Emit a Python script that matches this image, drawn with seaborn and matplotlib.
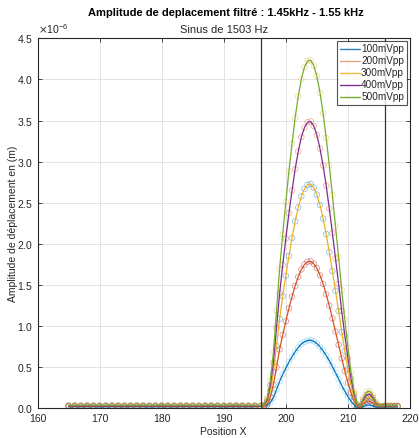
import numpy as np
import pandas as pd
import matplotlib
matplotlib.use("Agg")
import matplotlib.pyplot as plt
import seaborn as sns
from matplotlib.lines import Line2D
from matplotlib.ticker import ScalarFormatter

# ---------------- data (amplitudes in units of 1e-6 m) ----------------
labels = ["100mVpp", "200mVpp", "300mVpp", "400mVpp", "500mVpp"]
line_colors = ["#0072BD", "#D95319", "#EDB120", "#7E2F8E", "#77AC30"]
marker_colors = ["#4DBEEE", "#A2142F", "#0072BD", "#D95319", "#EDB120"]
legend_colors = ["#2F80C0", "#E8A080", "#F2BE40", "#7E2F8E", "#77AC30"]

x_base = list(range(165, 196))                       # 165 .. 195
x_peak = [196 + 0.5 * i for i in range(45)]           # 196 .. 218

base_100 = [0.020, 0.021, 0.020, 0.022, 0.021, 0.020, 0.021, 0.022, 0.021, 0.020, 0.021,
            0.022, 0.021, 0.020, 0.021, 0.022, 0.021, 0.020, 0.021, 0.022, 0.021, 0.020,
            0.021, 0.022, 0.021, 0.020, 0.021, 0.022, 0.021, 0.020, 0.021]
base_200 = [0.026, 0.027, 0.026, 0.028, 0.027, 0.026, 0.027, 0.028, 0.027, 0.026, 0.027,
            0.028, 0.027, 0.026, 0.027, 0.028, 0.027, 0.026, 0.027, 0.028, 0.027, 0.026,
            0.027, 0.028, 0.027, 0.026, 0.027, 0.028, 0.027, 0.026, 0.027]
base_300 = [0.034, 0.035, 0.034, 0.036, 0.035, 0.034, 0.035, 0.036, 0.035, 0.034, 0.035,
            0.036, 0.035, 0.034, 0.035, 0.036, 0.035, 0.034, 0.035, 0.036, 0.035, 0.034,
            0.035, 0.036, 0.035, 0.034, 0.035, 0.036, 0.035, 0.034, 0.035]
base_400 = [0.030, 0.031, 0.030, 0.032, 0.031, 0.030, 0.031, 0.032, 0.031, 0.030, 0.031,
            0.032, 0.031, 0.030, 0.031, 0.032, 0.031, 0.030, 0.031, 0.032, 0.031, 0.030,
            0.031, 0.032, 0.031, 0.030, 0.031, 0.032, 0.031, 0.030, 0.031]
base_500 = [0.040, 0.041, 0.040, 0.042, 0.041, 0.040, 0.041, 0.042, 0.041, 0.040, 0.041,
            0.042, 0.041, 0.040, 0.041, 0.042, 0.041, 0.040, 0.041, 0.042, 0.041, 0.040,
            0.041, 0.042, 0.041, 0.040, 0.041, 0.042, 0.041, 0.040, 0.041]

peak_100 = [0.03, 0.03, 0.04, 0.07, 0.13, 0.23, 0.33, 0.415, 0.49, 0.565, 0.63, 0.69,
            0.74, 0.785, 0.81, 0.827, 0.83, 0.817, 0.79, 0.75, 0.70, 0.645, 0.58, 0.51,
            0.435, 0.36, 0.28, 0.21, 0.145, 0.087, 0.042, 0.012, 0.008, 0.025, 0.039,
            0.042, 0.032, 0.018, 0.012, 0.015, 0.02, 0.02, 0.02, 0.02, 0.02]
peak_200 = [0.03, 0.03, 0.055, 0.14, 0.29, 0.50, 0.72, 0.895, 1.06, 1.22, 1.36, 1.49,
            1.60, 1.69, 1.75, 1.785, 1.79, 1.76, 1.705, 1.62, 1.515, 1.39, 1.25, 1.095,
            0.935, 0.775, 0.61, 0.455, 0.315, 0.19, 0.09, 0.025, 0.015, 0.054, 0.084,
            0.09, 0.068, 0.035, 0.02, 0.02, 0.025, 0.025, 0.025, 0.025, 0.025]
peak_300 = [0.03, 0.035, 0.08, 0.22, 0.44, 0.76, 1.09, 1.365, 1.615, 1.855, 2.075, 2.275,
            2.445, 2.58, 2.67, 2.72, 2.73, 2.685, 2.60, 2.475, 2.31, 2.12, 1.90, 1.67,
            1.43, 1.185, 0.93, 0.695, 0.48, 0.285, 0.135, 0.035, 0.022, 0.082, 0.128,
            0.137, 0.104, 0.05, 0.025, 0.025, 0.03, 0.03, 0.03, 0.03, 0.03]
peak_400 = [0.03, 0.04, 0.105, 0.28, 0.56, 0.98, 1.40, 1.745, 2.065, 2.375, 2.65, 2.91,
            3.125, 3.30, 3.415, 3.48, 3.49, 3.435, 3.325, 3.16, 2.955, 2.71, 2.43, 2.135,
            1.825, 1.515, 1.185, 0.89, 0.61, 0.365, 0.175, 0.042, 0.028, 0.105, 0.164,
            0.175, 0.133, 0.063, 0.03, 0.025, 0.03, 0.03, 0.03, 0.03, 0.03]
peak_500 = [0.035, 0.045, 0.13, 0.34, 0.68, 1.19, 1.70, 2.12, 2.51, 2.885, 3.22, 3.535,
            3.795, 4.005, 4.15, 4.225, 4.235, 4.17, 4.04, 3.84, 3.59, 3.29, 2.955, 2.595,
            2.215, 1.84, 1.44, 1.08, 0.74, 0.445, 0.21, 0.05, 0.034, 0.127, 0.20,
            0.212, 0.16, 0.076, 0.03, 0.03, 0.035, 0.035, 0.035, 0.035, 0.035]

bases = [base_100, base_200, base_300, base_400, base_500]
peaks = [peak_100, peak_200, peak_300, peak_400, peak_500]

filter_edges = [196, 216]
title = "Amplitude de deplacement filtré : 1.45kHz - 1.55 kHz"
subtitle = "Sinus de 1503 Hz"

# ---------------- build tidy frame ----------------
rows = []
for lab, b, p in zip(labels, bases, peaks):
    for xv, yv in zip(x_base + x_peak, b + p):
        rows.append({"x": xv, "y": yv * 1e-6, "serie": lab})
df = pd.DataFrame(rows)

# ---------------- plot ----------------
sns.set_theme(style="white")
plt.rcParams["font.family"] = ["Liberation Sans", "DejaVu Sans"]

fig = plt.figure(figsize=(4.19, 4.38), dpi=100)
ax = fig.add_axes([0.0895, 0.0674, 0.889, 0.845])

# markers (drawn in shifted colour order, as in the original)
for lab, mc in zip(labels, marker_colors):
    sub = df[df["serie"] == lab]
    ax.scatter(sub["x"], sub["y"], s=16, facecolors="none", edgecolors=mc,
               linewidths=0.5, alpha=0.5, zorder=2)

sns.lineplot(data=df, x="x", y="y", hue="serie", palette=line_colors,
             hue_order=labels, linewidth=0.9, ax=ax, legend=False, zorder=3)

for xe in filter_edges:
    ax.axvline(xe, color="#333333", linewidth=0.9, zorder=4)

ax.set_xlim(160, 220)
ax.set_ylim(0, 4.5e-6)
ax.set_xticks(np.arange(160, 221, 10))
ax.set_yticks(np.arange(0, 4.51e-6, 0.5e-6))
fmt = ScalarFormatter(useMathText=True)
fmt.set_powerlimits((0, 0))
ax.yaxis.set_major_formatter(fmt)
ax.yaxis.get_offset_text().set_fontsize(7.5)

ax.grid(True, color="#E3E3E3", linewidth=0.7)
ax.set_axisbelow(True)
for s in ax.spines.values():
    s.set_color("#262626")
    s.set_linewidth(0.8)
ax.tick_params(axis="both", which="both", direction="in", length=3, width=0.6,
               labelsize=7.5, colors="#262626", top=True, right=True,
               bottom=True, left=True, pad=3)
ax.tick_params(axis="x", pad=4)

ax.set_xlabel("Position X", fontsize=7.5, color="#262626", labelpad=2)
ax.set_ylabel("Amplitude de déplacement en (m)", fontsize=7.5, color="#262626", labelpad=0)
ax.yaxis.set_label_coords(-0.052, 0.5)

fig.text(0.54, 0.971, title, ha="center", va="center", fontsize=8, fontweight="bold",
         color="black")
ax.set_title(subtitle, fontsize=8, color="#262626", pad=4)

handles = [Line2D([0], [0], color=c, linewidth=1.0) for c in legend_colors]
leg = ax.legend(handles, labels, loc="upper right", fontsize=7.2, frameon=True,
                fancybox=False, edgecolor="#262626", handlelength=2.0,
                handletextpad=0.15, borderpad=0.3, labelspacing=0.2,
                borderaxespad=0.3)
leg.get_frame().set_linewidth(0.8)

fig.savefig("out.png", dpi=100)
